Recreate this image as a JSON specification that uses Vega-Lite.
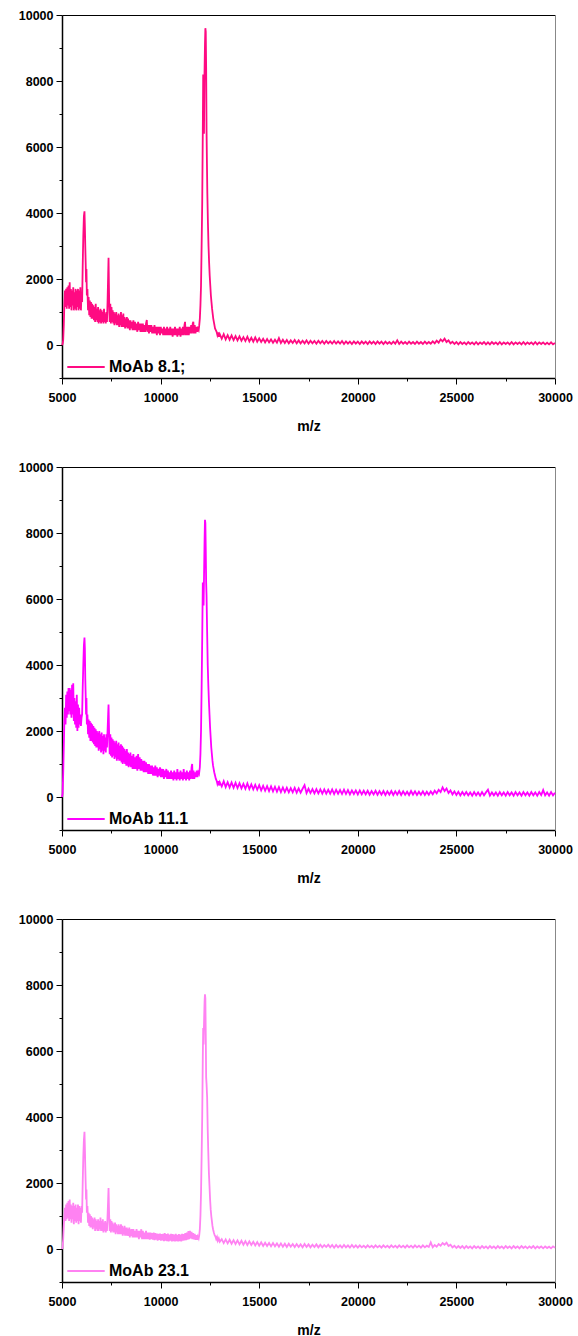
{
"$schema": "https://vega.github.io/schema/vega-lite/v6.json",
"background": "white",
"padding": {"left": 18, "top": 9, "right": 6, "bottom": 0},
"spacing": 27,
"config": {
 "view": {"stroke": null},
 "font": "Liberation Sans",
 "axis": {"grid": false, "labelFont": "Liberation Sans", "labelFontWeight": "bold", "labelFontSize": 12.5, "labelColor": "black", "titleFont": "Liberation Sans", "titleFontWeight": "bold", "titleFontSize": 14, "titleColor": "black", "domainColor": "black", "tickColor": "black", "labelFlush": false, "labelOverlap": false},
 "legend": {"orient": "none", "legendX": 4, "legendY": 332, "title": null, "symbolType": "stroke", "symbolSize": 1400, "symbolStrokeWidth": 1.8, "labelFont": "Liberation Sans", "labelFontSize": 16, "labelFontWeight": "bold", "labelColor": "black", "padding": 0, "labelOffset": 3}
},
"resolve": {"scale": {"color": "independent"}, "legend": {"color": "independent"}},
"datasets": {
"p1": [{"x":5000,"y":0},{"x":5030,"y":30},{"x":5060,"y":150},{"x":5090,"y":600},{"x":5120,"y":1250},{"x":5150,"y":1650},{"x":5180,"y":1150},{"x":5210,"y":1700},{"x":5240,"y":1100},{"x":5270,"y":1750},{"x":5300,"y":1200},{"x":5330,"y":1800},{"x":5360,"y":1100},{"x":5390,"y":1900},{"x":5420,"y":1150},{"x":5450,"y":1700},{"x":5480,"y":1050},{"x":5510,"y":1650},{"x":5540,"y":1200},{"x":5570,"y":1750},{"x":5600,"y":1050},{"x":5630,"y":1600},{"x":5660,"y":1100},{"x":5690,"y":1700},{"x":5720,"y":1050},{"x":5750,"y":1650},{"x":5780,"y":1150},{"x":5810,"y":1700},{"x":5840,"y":1050},{"x":5870,"y":1650},{"x":5900,"y":1100},{"x":5930,"y":1750},{"x":5960,"y":1050},{"x":5990,"y":1600},{"x":6020,"y":1300},{"x":6050,"y":2400},{"x":6080,"y":3300},{"x":6110,"y":3900},{"x":6140,"y":4050},{"x":6160,"y":3600},{"x":6180,"y":3000},{"x":6200,"y":2500},{"x":6220,"y":1900},{"x":6240,"y":2300},{"x":6260,"y":1500},{"x":6290,"y":1700},{"x":6320,"y":1050},{"x":6350,"y":1450},{"x":6380,"y":900},{"x":6410,"y":1350},{"x":6440,"y":850},{"x":6470,"y":1300},{"x":6500,"y":800},{"x":6530,"y":1250},{"x":6560,"y":800},{"x":6590,"y":1200},{"x":6620,"y":750},{"x":6650,"y":1150},{"x":6680,"y":700},{"x":6710,"y":1250},{"x":6740,"y":750},{"x":6770,"y":1100},{"x":6800,"y":700},{"x":6830,"y":1150},{"x":6860,"y":650},{"x":6890,"y":1050},{"x":6920,"y":700},{"x":6950,"y":1100},{"x":6980,"y":650},{"x":7010,"y":1050},{"x":7040,"y":700},{"x":7070,"y":1000},{"x":7100,"y":650},{"x":7130,"y":1100},{"x":7160,"y":700},{"x":7190,"y":950},{"x":7220,"y":650},{"x":7250,"y":1000},{"x":7280,"y":700},{"x":7310,"y":1300},{"x":7340,"y":2100},{"x":7360,"y":2640},{"x":7380,"y":1800},{"x":7400,"y":1000},{"x":7420,"y":700},{"x":7450,"y":1250},{"x":7480,"y":650},{"x":7510,"y":1150},{"x":7540,"y":700},{"x":7570,"y":1050},{"x":7600,"y":650},{"x":7630,"y":1000},{"x":7660,"y":600},{"x":7690,"y":950},{"x":7720,"y":650},{"x":7750,"y":1000},{"x":7780,"y":600},{"x":7810,"y":900},{"x":7840,"y":600},{"x":7870,"y":950},{"x":7900,"y":550},{"x":7930,"y":900},{"x":7960,"y":600},{"x":7990,"y":1000},{"x":8020,"y":550},{"x":8050,"y":900},{"x":8080,"y":550},{"x":8110,"y":950},{"x":8140,"y":550},{"x":8170,"y":850},{"x":8200,"y":500},{"x":8230,"y":800},{"x":8260,"y":550},{"x":8290,"y":850},{"x":8320,"y":500},{"x":8350,"y":800},{"x":8380,"y":500},{"x":8410,"y":750},{"x":8440,"y":450},{"x":8470,"y":750},{"x":8500,"y":500},{"x":8540,"y":700},{"x":8580,"y":450},{"x":8620,"y":750},{"x":8660,"y":450},{"x":8700,"y":700},{"x":8740,"y":450},{"x":8780,"y":650},{"x":8820,"y":400},{"x":8860,"y":700},{"x":8900,"y":450},{"x":8940,"y":650},{"x":8980,"y":400},{"x":9020,"y":650},{"x":9060,"y":400},{"x":9100,"y":650},{"x":9140,"y":400},{"x":9180,"y":600},{"x":9220,"y":400},{"x":9260,"y":650},{"x":9300,"y":760},{"x":9330,"y":400},{"x":9370,"y":600},{"x":9410,"y":350},{"x":9450,"y":600},{"x":9490,"y":400},{"x":9530,"y":600},{"x":9570,"y":350},{"x":9610,"y":550},{"x":9650,"y":350},{"x":9690,"y":600},{"x":9730,"y":350},{"x":9770,"y":550},{"x":9810,"y":300},{"x":9850,"y":550},{"x":9890,"y":350},{"x":9930,"y":550},{"x":9970,"y":300},{"x":10010,"y":550},{"x":10050,"y":350},{"x":10090,"y":500},{"x":10130,"y":300},{"x":10170,"y":550},{"x":10210,"y":300},{"x":10250,"y":500},{"x":10290,"y":300},{"x":10330,"y":550},{"x":10370,"y":300},{"x":10410,"y":500},{"x":10450,"y":300},{"x":10490,"y":550},{"x":10530,"y":300},{"x":10570,"y":500},{"x":10610,"y":250},{"x":10650,"y":500},{"x":10690,"y":300},{"x":10730,"y":550},{"x":10770,"y":300},{"x":10810,"y":500},{"x":10850,"y":250},{"x":10890,"y":500},{"x":10930,"y":300},{"x":10970,"y":550},{"x":11010,"y":250},{"x":11050,"y":500},{"x":11090,"y":300},{"x":11130,"y":550},{"x":11170,"y":300},{"x":11210,"y":600},{"x":11240,"y":700},{"x":11270,"y":300},{"x":11310,"y":550},{"x":11350,"y":300},{"x":11390,"y":550},{"x":11430,"y":300},{"x":11470,"y":550},{"x":11510,"y":350},{"x":11550,"y":600},{"x":11590,"y":350},{"x":11630,"y":650},{"x":11660,"y":700},{"x":11690,"y":350},{"x":11730,"y":600},{"x":11770,"y":350},{"x":11810,"y":550},{"x":11850,"y":400},{"x":11890,"y":500},{"x":11930,"y":450},{"x":11960,"y":600},{"x":11990,"y":800},{"x":12020,"y":1200},{"x":12050,"y":1800},{"x":12080,"y":3000},{"x":12110,"y":4300},{"x":12140,"y":6500},{"x":12160,"y":8200},{"x":12180,"y":7500},{"x":12200,"y":6400},{"x":12220,"y":8000},{"x":12250,"y":9100},{"x":12270,"y":9600},{"x":12290,"y":9500},{"x":12310,"y":8400},{"x":12330,"y":6500},{"x":12350,"y":5500},{"x":12370,"y":4600},{"x":12400,"y":3700},{"x":12430,"y":3000},{"x":12460,"y":2500},{"x":12490,"y":2100},{"x":12520,"y":1800},{"x":12550,"y":1500},{"x":12580,"y":1300},{"x":12610,"y":1100},{"x":12640,"y":950},{"x":12670,"y":800},{"x":12700,"y":700},{"x":12730,"y":600},{"x":12760,"y":500},{"x":12800,"y":450},{"x":12840,"y":400},{"x":12880,"y":300},{"x":12920,"y":380},{"x":12960,"y":250},{"x":13000,"y":330},{"x":13100,"y":190},{"x":13200,"y":330},{"x":13300,"y":170},{"x":13400,"y":300},{"x":13500,"y":160},{"x":13600,"y":290},{"x":13700,"y":150},{"x":13800,"y":270},{"x":13900,"y":140},{"x":14000,"y":260},{"x":14100,"y":130},{"x":14200,"y":240},{"x":14300,"y":120},{"x":14400,"y":250},{"x":14500,"y":110},{"x":14600,"y":220},{"x":14700,"y":100},{"x":14800,"y":230},{"x":14900,"y":100},{"x":15000,"y":200},{"x":15100,"y":90},{"x":15200,"y":190},{"x":15300,"y":80},{"x":15400,"y":180},{"x":15500,"y":80},{"x":15600,"y":170},{"x":15700,"y":70},{"x":15800,"y":160},{"x":15900,"y":70},{"x":16000,"y":210},{"x":16100,"y":60},{"x":16200,"y":160},{"x":16300,"y":60},{"x":16400,"y":150},{"x":16500,"y":50},{"x":16600,"y":140},{"x":16700,"y":60},{"x":16800,"y":150},{"x":16900,"y":50},{"x":17000,"y":140},{"x":17100,"y":50},{"x":17200,"y":130},{"x":17300,"y":50},{"x":17400,"y":140},{"x":17500,"y":40},{"x":17600,"y":130},{"x":17700,"y":50},{"x":17800,"y":120},{"x":17900,"y":40},{"x":18000,"y":130},{"x":18100,"y":50},{"x":18200,"y":120},{"x":18300,"y":40},{"x":18400,"y":120},{"x":18500,"y":50},{"x":18600,"y":110},{"x":18700,"y":40},{"x":18800,"y":120},{"x":18900,"y":40},{"x":19000,"y":110},{"x":19100,"y":40},{"x":19200,"y":120},{"x":19300,"y":30},{"x":19400,"y":110},{"x":19500,"y":40},{"x":19600,"y":100},{"x":19700,"y":30},{"x":19800,"y":110},{"x":19900,"y":40},{"x":20000,"y":100},{"x":20100,"y":30},{"x":20200,"y":110},{"x":20300,"y":40},{"x":20400,"y":100},{"x":20500,"y":30},{"x":20600,"y":110},{"x":20700,"y":40},{"x":20800,"y":100},{"x":20900,"y":30},{"x":21000,"y":110},{"x":21100,"y":40},{"x":21200,"y":100},{"x":21300,"y":30},{"x":21400,"y":100},{"x":21500,"y":40},{"x":21600,"y":90},{"x":21700,"y":30},{"x":21800,"y":100},{"x":21900,"y":40},{"x":22000,"y":140},{"x":22100,"y":30},{"x":22200,"y":100},{"x":22300,"y":40},{"x":22400,"y":90},{"x":22500,"y":30},{"x":22600,"y":100},{"x":22700,"y":40},{"x":22800,"y":90},{"x":22900,"y":30},{"x":23000,"y":100},{"x":23100,"y":40},{"x":23200,"y":90},{"x":23300,"y":30},{"x":23400,"y":100},{"x":23500,"y":40},{"x":23600,"y":90},{"x":23700,"y":40},{"x":23800,"y":110},{"x":23900,"y":50},{"x":24000,"y":130},{"x":24100,"y":70},{"x":24200,"y":170},{"x":24300,"y":110},{"x":24400,"y":190},{"x":24500,"y":90},{"x":24600,"y":140},{"x":24700,"y":50},{"x":24800,"y":100},{"x":24900,"y":30},{"x":25000,"y":90},{"x":25100,"y":20},{"x":25200,"y":90},{"x":25300,"y":30},{"x":25400,"y":80},{"x":25500,"y":20},{"x":25600,"y":90},{"x":25700,"y":30},{"x":25800,"y":80},{"x":25900,"y":20},{"x":26000,"y":90},{"x":26100,"y":20},{"x":26200,"y":80},{"x":26300,"y":30},{"x":26400,"y":90},{"x":26500,"y":20},{"x":26600,"y":80},{"x":26700,"y":20},{"x":26800,"y":90},{"x":26900,"y":30},{"x":27000,"y":80},{"x":27100,"y":20},{"x":27200,"y":90},{"x":27300,"y":20},{"x":27400,"y":80},{"x":27500,"y":30},{"x":27600,"y":80},{"x":27700,"y":20},{"x":27800,"y":90},{"x":27900,"y":20},{"x":28000,"y":80},{"x":28100,"y":30},{"x":28200,"y":80},{"x":28300,"y":20},{"x":28400,"y":90},{"x":28500,"y":20},{"x":28600,"y":80},{"x":28700,"y":30},{"x":28800,"y":80},{"x":28900,"y":20},{"x":29000,"y":90},{"x":29100,"y":20},{"x":29200,"y":80},{"x":29300,"y":30},{"x":29400,"y":80},{"x":29500,"y":20},{"x":29600,"y":70},{"x":29700,"y":20},{"x":29800,"y":80},{"x":29900,"y":20},{"x":30000,"y":60}],
"p2": [{"x":5000,"y":0},{"x":5030,"y":100},{"x":5060,"y":700},{"x":5090,"y":1500},{"x":5120,"y":2300},{"x":5150,"y":2700},{"x":5180,"y":2200},{"x":5210,"y":3100},{"x":5240,"y":2400},{"x":5270,"y":3200},{"x":5300,"y":2500},{"x":5330,"y":3300},{"x":5360,"y":2600},{"x":5390,"y":3300},{"x":5420,"y":2500},{"x":5450,"y":3250},{"x":5480,"y":2400},{"x":5510,"y":3400},{"x":5540,"y":2500},{"x":5570,"y":3450},{"x":5600,"y":2300},{"x":5630,"y":3000},{"x":5660,"y":2200},{"x":5690,"y":2900},{"x":5720,"y":2100},{"x":5750,"y":3100},{"x":5780,"y":2000},{"x":5810,"y":2800},{"x":5840,"y":2100},{"x":5870,"y":2700},{"x":5900,"y":2200},{"x":5930,"y":2500},{"x":5960,"y":2150},{"x":5990,"y":2400},{"x":6020,"y":2500},{"x":6050,"y":3300},{"x":6080,"y":4000},{"x":6110,"y":4600},{"x":6140,"y":4830},{"x":6160,"y":4500},{"x":6180,"y":3600},{"x":6200,"y":3100},{"x":6220,"y":2500},{"x":6240,"y":3000},{"x":6260,"y":2200},{"x":6290,"y":2500},{"x":6320,"y":1900},{"x":6350,"y":2350},{"x":6380,"y":1800},{"x":6410,"y":2300},{"x":6440,"y":1700},{"x":6470,"y":2250},{"x":6500,"y":1700},{"x":6530,"y":2200},{"x":6560,"y":1650},{"x":6590,"y":2150},{"x":6620,"y":1600},{"x":6650,"y":2100},{"x":6680,"y":1550},{"x":6710,"y":2050},{"x":6740,"y":1500},{"x":6770,"y":2000},{"x":6800,"y":1500},{"x":6830,"y":1950},{"x":6860,"y":1400},{"x":6890,"y":2000},{"x":6920,"y":1450},{"x":6950,"y":1900},{"x":6980,"y":1350},{"x":7010,"y":1950},{"x":7040,"y":1400},{"x":7070,"y":1850},{"x":7100,"y":1300},{"x":7130,"y":1900},{"x":7160,"y":1400},{"x":7190,"y":1800},{"x":7220,"y":1350},{"x":7250,"y":1900},{"x":7280,"y":1500},{"x":7310,"y":2000},{"x":7340,"y":2500},{"x":7360,"y":2800},{"x":7380,"y":2200},{"x":7400,"y":1600},{"x":7420,"y":1300},{"x":7450,"y":1900},{"x":7480,"y":1250},{"x":7510,"y":1800},{"x":7540,"y":1200},{"x":7570,"y":1750},{"x":7600,"y":1250},{"x":7630,"y":1700},{"x":7660,"y":1150},{"x":7690,"y":1650},{"x":7720,"y":1200},{"x":7750,"y":1700},{"x":7780,"y":1100},{"x":7810,"y":1600},{"x":7840,"y":1150},{"x":7870,"y":1650},{"x":7900,"y":1100},{"x":7930,"y":1550},{"x":7960,"y":1100},{"x":7990,"y":1600},{"x":8020,"y":1050},{"x":8050,"y":1550},{"x":8080,"y":1000},{"x":8110,"y":1500},{"x":8140,"y":1050},{"x":8170,"y":1450},{"x":8200,"y":1000},{"x":8230,"y":1400},{"x":8260,"y":950},{"x":8290,"y":1450},{"x":8320,"y":950},{"x":8350,"y":1350},{"x":8380,"y":900},{"x":8410,"y":1300},{"x":8440,"y":950},{"x":8470,"y":1350},{"x":8500,"y":900},{"x":8540,"y":1250},{"x":8580,"y":850},{"x":8620,"y":1300},{"x":8660,"y":850},{"x":8700,"y":1200},{"x":8740,"y":850},{"x":8780,"y":1250},{"x":8820,"y":800},{"x":8860,"y":1300},{"x":8900,"y":850},{"x":8940,"y":1200},{"x":8980,"y":800},{"x":9020,"y":1150},{"x":9060,"y":800},{"x":9100,"y":1100},{"x":9140,"y":750},{"x":9180,"y":1100},{"x":9220,"y":750},{"x":9260,"y":1050},{"x":9300,"y":750},{"x":9330,"y":1000},{"x":9370,"y":700},{"x":9410,"y":1000},{"x":9450,"y":700},{"x":9490,"y":950},{"x":9530,"y":700},{"x":9570,"y":950},{"x":9610,"y":650},{"x":9650,"y":900},{"x":9690,"y":650},{"x":9730,"y":950},{"x":9770,"y":650},{"x":9810,"y":900},{"x":9850,"y":600},{"x":9890,"y":850},{"x":9930,"y":650},{"x":9970,"y":900},{"x":10010,"y":600},{"x":10050,"y":850},{"x":10090,"y":600},{"x":10130,"y":850},{"x":10170,"y":550},{"x":10210,"y":800},{"x":10250,"y":600},{"x":10290,"y":850},{"x":10330,"y":550},{"x":10370,"y":800},{"x":10410,"y":550},{"x":10450,"y":750},{"x":10490,"y":550},{"x":10530,"y":800},{"x":10570,"y":550},{"x":10610,"y":750},{"x":10650,"y":500},{"x":10690,"y":800},{"x":10730,"y":550},{"x":10770,"y":750},{"x":10810,"y":500},{"x":10850,"y":850},{"x":10890,"y":550},{"x":10930,"y":750},{"x":10970,"y":500},{"x":11010,"y":800},{"x":11050,"y":550},{"x":11090,"y":750},{"x":11130,"y":500},{"x":11170,"y":850},{"x":11210,"y":550},{"x":11250,"y":750},{"x":11290,"y":500},{"x":11330,"y":800},{"x":11370,"y":550},{"x":11410,"y":750},{"x":11450,"y":500},{"x":11490,"y":800},{"x":11530,"y":550},{"x":11570,"y":900},{"x":11600,"y":1000},{"x":11630,"y":550},{"x":11670,"y":800},{"x":11710,"y":550},{"x":11750,"y":750},{"x":11790,"y":600},{"x":11830,"y":800},{"x":11870,"y":600},{"x":11910,"y":750},{"x":11950,"y":700},{"x":11990,"y":900},{"x":12020,"y":1300},{"x":12050,"y":2000},{"x":12080,"y":3300},{"x":12110,"y":4800},{"x":12140,"y":6500},{"x":12160,"y":6300},{"x":12180,"y":5800},{"x":12200,"y":6600},{"x":12230,"y":7800},{"x":12250,"y":8400},{"x":12270,"y":8300},{"x":12290,"y":7500},{"x":12310,"y":6500},{"x":12330,"y":6100},{"x":12360,"y":5000},{"x":12390,"y":4000},{"x":12420,"y":3400},{"x":12450,"y":2900},{"x":12480,"y":2500},{"x":12510,"y":2100},{"x":12540,"y":1800},{"x":12570,"y":1500},{"x":12600,"y":1300},{"x":12630,"y":1100},{"x":12660,"y":950},{"x":12690,"y":850},{"x":12720,"y":750},{"x":12760,"y":650},{"x":12800,"y":550},{"x":12840,"y":500},{"x":12880,"y":400},{"x":12920,"y":480},{"x":12960,"y":350},{"x":13000,"y":450},{"x":13100,"y":320},{"x":13200,"y":480},{"x":13300,"y":300},{"x":13400,"y":450},{"x":13500,"y":290},{"x":13600,"y":440},{"x":13700,"y":280},{"x":13800,"y":430},{"x":13900,"y":270},{"x":14000,"y":420},{"x":14100,"y":260},{"x":14200,"y":400},{"x":14300,"y":250},{"x":14400,"y":410},{"x":14500,"y":240},{"x":14600,"y":380},{"x":14700,"y":230},{"x":14800,"y":370},{"x":14900,"y":220},{"x":15000,"y":360},{"x":15100,"y":200},{"x":15200,"y":340},{"x":15300,"y":190},{"x":15400,"y":330},{"x":15500,"y":180},{"x":15600,"y":320},{"x":15700,"y":170},{"x":15800,"y":310},{"x":15900,"y":160},{"x":16000,"y":300},{"x":16100,"y":150},{"x":16200,"y":290},{"x":16300,"y":150},{"x":16400,"y":280},{"x":16500,"y":140},{"x":16600,"y":270},{"x":16700,"y":140},{"x":16800,"y":280},{"x":16900,"y":130},{"x":17000,"y":260},{"x":17100,"y":130},{"x":17200,"y":250},{"x":17300,"y":360},{"x":17400,"y":120},{"x":17500,"y":250},{"x":17600,"y":120},{"x":17700,"y":240},{"x":17800,"y":110},{"x":17900,"y":240},{"x":18000,"y":110},{"x":18100,"y":230},{"x":18200,"y":100},{"x":18300,"y":230},{"x":18400,"y":100},{"x":18500,"y":220},{"x":18600,"y":100},{"x":18700,"y":230},{"x":18800,"y":90},{"x":18900,"y":220},{"x":19000,"y":100},{"x":19100,"y":210},{"x":19200,"y":90},{"x":19300,"y":220},{"x":19400,"y":90},{"x":19500,"y":210},{"x":19600,"y":80},{"x":19700,"y":200},{"x":19800,"y":90},{"x":19900,"y":200},{"x":20000,"y":80},{"x":20100,"y":200},{"x":20200,"y":80},{"x":20300,"y":190},{"x":20400,"y":80},{"x":20500,"y":190},{"x":20600,"y":70},{"x":20700,"y":180},{"x":20800,"y":80},{"x":20900,"y":190},{"x":21000,"y":70},{"x":21100,"y":180},{"x":21200,"y":70},{"x":21300,"y":180},{"x":21400,"y":60},{"x":21500,"y":170},{"x":21600,"y":70},{"x":21700,"y":180},{"x":21800,"y":60},{"x":21900,"y":170},{"x":22000,"y":70},{"x":22100,"y":180},{"x":22200,"y":60},{"x":22300,"y":170},{"x":22400,"y":70},{"x":22500,"y":160},{"x":22600,"y":60},{"x":22700,"y":180},{"x":22800,"y":70},{"x":22900,"y":170},{"x":23000,"y":60},{"x":23100,"y":160},{"x":23200,"y":70},{"x":23300,"y":170},{"x":23400,"y":60},{"x":23500,"y":160},{"x":23600,"y":70},{"x":23700,"y":170},{"x":23800,"y":80},{"x":23900,"y":190},{"x":24000,"y":110},{"x":24100,"y":220},{"x":24200,"y":150},{"x":24300,"y":290},{"x":24400,"y":180},{"x":24500,"y":260},{"x":24600,"y":120},{"x":24700,"y":200},{"x":24800,"y":80},{"x":24900,"y":170},{"x":25000,"y":60},{"x":25100,"y":160},{"x":25200,"y":50},{"x":25300,"y":150},{"x":25400,"y":60},{"x":25500,"y":150},{"x":25600,"y":50},{"x":25700,"y":140},{"x":25800,"y":40},{"x":25900,"y":150},{"x":26000,"y":50},{"x":26100,"y":140},{"x":26200,"y":40},{"x":26300,"y":150},{"x":26400,"y":50},{"x":26500,"y":140},{"x":26600,"y":220},{"x":26700,"y":40},{"x":26800,"y":140},{"x":26900,"y":50},{"x":27000,"y":140},{"x":27100,"y":40},{"x":27200,"y":150},{"x":27300,"y":50},{"x":27400,"y":140},{"x":27500,"y":40},{"x":27600,"y":150},{"x":27700,"y":50},{"x":27800,"y":140},{"x":27900,"y":40},{"x":28000,"y":150},{"x":28100,"y":50},{"x":28200,"y":140},{"x":28300,"y":40},{"x":28400,"y":150},{"x":28500,"y":50},{"x":28600,"y":140},{"x":28700,"y":40},{"x":28800,"y":150},{"x":28900,"y":50},{"x":29000,"y":140},{"x":29100,"y":40},{"x":29200,"y":150},{"x":29300,"y":60},{"x":29400,"y":210},{"x":29500,"y":50},{"x":29600,"y":140},{"x":29700,"y":40},{"x":29800,"y":150},{"x":29900,"y":50},{"x":30000,"y":130}],
"p3": [{"x":5000,"y":0},{"x":5030,"y":50},{"x":5060,"y":300},{"x":5090,"y":700},{"x":5120,"y":1000},{"x":5150,"y":1250},{"x":5180,"y":850},{"x":5210,"y":1350},{"x":5240,"y":900},{"x":5270,"y":1400},{"x":5300,"y":950},{"x":5330,"y":1450},{"x":5360,"y":850},{"x":5390,"y":1500},{"x":5420,"y":900},{"x":5450,"y":1350},{"x":5480,"y":800},{"x":5510,"y":1300},{"x":5540,"y":900},{"x":5570,"y":1400},{"x":5600,"y":750},{"x":5630,"y":1300},{"x":5660,"y":850},{"x":5690,"y":1350},{"x":5720,"y":800},{"x":5750,"y":1250},{"x":5780,"y":850},{"x":5810,"y":1350},{"x":5840,"y":750},{"x":5870,"y":1300},{"x":5900,"y":850},{"x":5930,"y":1250},{"x":5960,"y":800},{"x":5990,"y":1300},{"x":6020,"y":1100},{"x":6050,"y":2000},{"x":6080,"y":2800},{"x":6110,"y":3300},{"x":6140,"y":3550},{"x":6160,"y":3100},{"x":6180,"y":2500},{"x":6200,"y":2000},{"x":6220,"y":1500},{"x":6240,"y":1800},{"x":6260,"y":1100},{"x":6290,"y":1300},{"x":6320,"y":800},{"x":6350,"y":1100},{"x":6380,"y":700},{"x":6410,"y":1050},{"x":6440,"y":650},{"x":6470,"y":1000},{"x":6500,"y":650},{"x":6530,"y":950},{"x":6560,"y":600},{"x":6590,"y":900},{"x":6620,"y":650},{"x":6650,"y":950},{"x":6680,"y":550},{"x":6710,"y":900},{"x":6740,"y":600},{"x":6770,"y":850},{"x":6800,"y":550},{"x":6830,"y":900},{"x":6860,"y":550},{"x":6890,"y":850},{"x":6920,"y":600},{"x":6950,"y":950},{"x":6980,"y":550},{"x":7010,"y":850},{"x":7040,"y":550},{"x":7070,"y":900},{"x":7100,"y":500},{"x":7130,"y":800},{"x":7160,"y":550},{"x":7190,"y":850},{"x":7220,"y":500},{"x":7250,"y":800},{"x":7280,"y":550},{"x":7310,"y":1000},{"x":7340,"y":1500},{"x":7360,"y":1845},{"x":7380,"y":1300},{"x":7400,"y":800},{"x":7420,"y":550},{"x":7450,"y":900},{"x":7480,"y":500},{"x":7510,"y":850},{"x":7540,"y":550},{"x":7570,"y":800},{"x":7600,"y":500},{"x":7630,"y":750},{"x":7660,"y":500},{"x":7690,"y":800},{"x":7720,"y":450},{"x":7750,"y":750},{"x":7780,"y":500},{"x":7810,"y":700},{"x":7840,"y":450},{"x":7870,"y":750},{"x":7900,"y":450},{"x":7930,"y":700},{"x":7960,"y":450},{"x":7990,"y":750},{"x":8020,"y":450},{"x":8050,"y":700},{"x":8080,"y":400},{"x":8110,"y":650},{"x":8140,"y":450},{"x":8170,"y":700},{"x":8200,"y":400},{"x":8230,"y":650},{"x":8260,"y":400},{"x":8290,"y":650},{"x":8320,"y":400},{"x":8350,"y":600},{"x":8380,"y":400},{"x":8410,"y":650},{"x":8440,"y":350},{"x":8470,"y":600},{"x":8500,"y":400},{"x":8540,"y":600},{"x":8580,"y":350},{"x":8620,"y":600},{"x":8660,"y":350},{"x":8700,"y":550},{"x":8740,"y":350},{"x":8780,"y":600},{"x":8820,"y":350},{"x":8860,"y":550},{"x":8900,"y":300},{"x":8940,"y":550},{"x":8980,"y":350},{"x":9020,"y":600},{"x":9060,"y":300},{"x":9100,"y":550},{"x":9140,"y":300},{"x":9180,"y":500},{"x":9220,"y":300},{"x":9260,"y":550},{"x":9300,"y":300},{"x":9330,"y":500},{"x":9370,"y":300},{"x":9410,"y":500},{"x":9450,"y":280},{"x":9490,"y":500},{"x":9530,"y":300},{"x":9570,"y":480},{"x":9610,"y":280},{"x":9650,"y":500},{"x":9690,"y":270},{"x":9730,"y":480},{"x":9770,"y":280},{"x":9810,"y":470},{"x":9850,"y":250},{"x":9890,"y":460},{"x":9930,"y":280},{"x":9970,"y":470},{"x":10010,"y":250},{"x":10050,"y":450},{"x":10090,"y":260},{"x":10130,"y":460},{"x":10170,"y":240},{"x":10210,"y":480},{"x":10250,"y":250},{"x":10290,"y":450},{"x":10330,"y":240},{"x":10370,"y":470},{"x":10410,"y":230},{"x":10450,"y":440},{"x":10490,"y":250},{"x":10530,"y":460},{"x":10570,"y":230},{"x":10610,"y":450},{"x":10650,"y":240},{"x":10690,"y":440},{"x":10730,"y":230},{"x":10770,"y":460},{"x":10810,"y":240},{"x":10850,"y":430},{"x":10890,"y":230},{"x":10930,"y":450},{"x":10970,"y":240},{"x":11010,"y":440},{"x":11050,"y":230},{"x":11090,"y":460},{"x":11130,"y":250},{"x":11170,"y":450},{"x":11210,"y":260},{"x":11250,"y":480},{"x":11290,"y":270},{"x":11330,"y":500},{"x":11370,"y":280},{"x":11410,"y":540},{"x":11450,"y":300},{"x":11490,"y":550},{"x":11530,"y":320},{"x":11570,"y":520},{"x":11610,"y":300},{"x":11650,"y":480},{"x":11690,"y":290},{"x":11730,"y":460},{"x":11770,"y":280},{"x":11810,"y":420},{"x":11850,"y":280},{"x":11890,"y":380},{"x":11930,"y":320},{"x":11960,"y":420},{"x":11990,"y":600},{"x":12020,"y":1000},{"x":12050,"y":1700},{"x":12080,"y":2800},{"x":12110,"y":4000},{"x":12140,"y":5800},{"x":12160,"y":6700},{"x":12180,"y":6200},{"x":12200,"y":6800},{"x":12230,"y":7500},{"x":12250,"y":7720},{"x":12270,"y":7600},{"x":12290,"y":6500},{"x":12310,"y":5200},{"x":12330,"y":5000},{"x":12360,"y":4600},{"x":12390,"y":3600},{"x":12420,"y":2900},{"x":12450,"y":2300},{"x":12480,"y":1900},{"x":12510,"y":1500},{"x":12540,"y":1200},{"x":12570,"y":1000},{"x":12600,"y":850},{"x":12630,"y":700},{"x":12660,"y":600},{"x":12700,"y":500},{"x":12740,"y":420},{"x":12780,"y":380},{"x":12820,"y":300},{"x":12860,"y":360},{"x":12900,"y":250},{"x":12950,"y":320},{"x":13000,"y":220},{"x":13100,"y":300},{"x":13200,"y":180},{"x":13300,"y":290},{"x":13400,"y":170},{"x":13500,"y":280},{"x":13600,"y":160},{"x":13700,"y":270},{"x":13800,"y":150},{"x":13900,"y":260},{"x":14000,"y":140},{"x":14100,"y":250},{"x":14200,"y":130},{"x":14300,"y":240},{"x":14400,"y":120},{"x":14500,"y":230},{"x":14600,"y":120},{"x":14700,"y":220},{"x":14800,"y":110},{"x":14900,"y":210},{"x":15000,"y":100},{"x":15100,"y":200},{"x":15200,"y":90},{"x":15300,"y":190},{"x":15400,"y":90},{"x":15500,"y":180},{"x":15600,"y":80},{"x":15700,"y":180},{"x":15800,"y":80},{"x":15900,"y":170},{"x":16000,"y":70},{"x":16100,"y":170},{"x":16200,"y":70},{"x":16300,"y":160},{"x":16400,"y":60},{"x":16500,"y":160},{"x":16600,"y":70},{"x":16700,"y":150},{"x":16800,"y":60},{"x":16900,"y":150},{"x":17000,"y":60},{"x":17100,"y":140},{"x":17200,"y":50},{"x":17300,"y":150},{"x":17400,"y":60},{"x":17500,"y":140},{"x":17600,"y":50},{"x":17700,"y":130},{"x":17800,"y":60},{"x":17900,"y":140},{"x":18000,"y":50},{"x":18100,"y":130},{"x":18200,"y":50},{"x":18300,"y":120},{"x":18400,"y":60},{"x":18500,"y":130},{"x":18600,"y":50},{"x":18700,"y":120},{"x":18800,"y":40},{"x":18900,"y":120},{"x":19000,"y":50},{"x":19100,"y":110},{"x":19200,"y":40},{"x":19300,"y":120},{"x":19400,"y":50},{"x":19500,"y":110},{"x":19600,"y":40},{"x":19700,"y":120},{"x":19800,"y":50},{"x":19900,"y":110},{"x":20000,"y":40},{"x":20100,"y":110},{"x":20200,"y":50},{"x":20300,"y":100},{"x":20400,"y":40},{"x":20500,"y":110},{"x":20600,"y":50},{"x":20700,"y":100},{"x":20800,"y":40},{"x":20900,"y":110},{"x":21000,"y":50},{"x":21100,"y":100},{"x":21200,"y":40},{"x":21300,"y":110},{"x":21400,"y":50},{"x":21500,"y":100},{"x":21600,"y":40},{"x":21700,"y":110},{"x":21800,"y":50},{"x":21900,"y":100},{"x":22000,"y":40},{"x":22100,"y":110},{"x":22200,"y":50},{"x":22300,"y":100},{"x":22400,"y":40},{"x":22500,"y":110},{"x":22600,"y":50},{"x":22700,"y":100},{"x":22800,"y":40},{"x":22900,"y":110},{"x":23000,"y":50},{"x":23100,"y":100},{"x":23200,"y":40},{"x":23300,"y":110},{"x":23400,"y":50},{"x":23500,"y":100},{"x":23600,"y":60},{"x":23700,"y":200},{"x":23800,"y":50},{"x":23900,"y":120},{"x":24000,"y":70},{"x":24100,"y":150},{"x":24200,"y":100},{"x":24300,"y":180},{"x":24400,"y":130},{"x":24500,"y":190},{"x":24600,"y":90},{"x":24700,"y":130},{"x":24800,"y":50},{"x":24900,"y":100},{"x":25000,"y":30},{"x":25100,"y":90},{"x":25200,"y":30},{"x":25300,"y":90},{"x":25400,"y":20},{"x":25500,"y":90},{"x":25600,"y":30},{"x":25700,"y":80},{"x":25800,"y":20},{"x":25900,"y":90},{"x":26000,"y":30},{"x":26100,"y":80},{"x":26200,"y":20},{"x":26300,"y":90},{"x":26400,"y":30},{"x":26500,"y":80},{"x":26600,"y":20},{"x":26700,"y":90},{"x":26800,"y":30},{"x":26900,"y":80},{"x":27000,"y":20},{"x":27100,"y":90},{"x":27200,"y":30},{"x":27300,"y":80},{"x":27400,"y":20},{"x":27500,"y":90},{"x":27600,"y":30},{"x":27700,"y":80},{"x":27800,"y":20},{"x":27900,"y":90},{"x":28000,"y":30},{"x":28100,"y":80},{"x":28200,"y":20},{"x":28300,"y":90},{"x":28400,"y":30},{"x":28500,"y":80},{"x":28600,"y":20},{"x":28700,"y":80},{"x":28800,"y":30},{"x":28900,"y":90},{"x":29000,"y":20},{"x":29100,"y":80},{"x":29200,"y":30},{"x":29300,"y":80},{"x":29400,"y":20},{"x":29500,"y":80},{"x":29600,"y":30},{"x":29700,"y":70},{"x":29800,"y":20},{"x":29900,"y":80},{"x":30000,"y":40}]
},
"vconcat": [
 {"width": 493, "height": 363, "data": {"name": "p1"},
  "resolve": {"axis": {"x": "independent", "y": "independent"}},
  "layer": [
   {"mark": {"type": "line", "strokeWidth": 1.8},
    "encoding": {
     "x": {"field": "x", "type": "quantitative", "scale": {"domain": [5000, 30000], "nice": false, "zero": false},
       "axis": {"orient": "bottom", "title": "m/z", "format": "d", "values": [5000,7500,10000,12500,15000,17500,20000,22500,25000,27500,30000], "labelExpr": "datum.value % 5000 === 0 ? datum.label : ''", "tickSize": {"condition": {"test": "datum.value % 5000 === 0", "value": 6}, "value": 3}, "domainWidth": 1.5, "labelPadding": 7, "titlePadding": 16}},
     "y": {"field": "y", "type": "quantitative", "scale": {"domain": [-1000, 10000], "nice": false, "zero": false},
       "axis": {"orient": "left", "title": null, "format": "d", "values": [-1000,0,1000,2000,3000,4000,5000,6000,7000,8000,9000,10000], "labelExpr": "datum.value % 2000 === 0 ? datum.label : ''", "tickSize": {"condition": {"test": "datum.value % 2000 === 0", "value": 6}, "value": 3}, "domainWidth": 1.5, "labelPadding": 3}},
     "color": {"datum": "MoAb 8.1;", "scale": {"range": ["#FF0A82"]}}
    }},
   {"mark": {"type": "line", "strokeOpacity": 0},
    "encoding": {
     "x": {"field": "x", "type": "quantitative", "axis": {"orient": "top", "ticks": false, "labels": false, "title": null, "domainColor": "black", "domainWidth": 1}},
     "y": {"field": "y", "type": "quantitative", "axis": {"orient": "right", "ticks": false, "labels": false, "title": null, "domainColor": "#888888", "domainWidth": 1}}
    }}
  ]},
 {"width": 493, "height": 363, "data": {"name": "p2"},
  "resolve": {"axis": {"x": "independent", "y": "independent"}},
  "layer": [
   {"mark": {"type": "line", "strokeWidth": 1.8},
    "encoding": {
     "x": {"field": "x", "type": "quantitative", "scale": {"domain": [5000, 30000], "nice": false, "zero": false},
       "axis": {"orient": "bottom", "title": "m/z", "format": "d", "values": [5000,7500,10000,12500,15000,17500,20000,22500,25000,27500,30000], "labelExpr": "datum.value % 5000 === 0 ? datum.label : ''", "tickSize": {"condition": {"test": "datum.value % 5000 === 0", "value": 6}, "value": 3}, "domainWidth": 1.5, "labelPadding": 7, "titlePadding": 16}},
     "y": {"field": "y", "type": "quantitative", "scale": {"domain": [-1000, 10000], "nice": false, "zero": false},
       "axis": {"orient": "left", "title": null, "format": "d", "values": [-1000,0,1000,2000,3000,4000,5000,6000,7000,8000,9000,10000], "labelExpr": "datum.value % 2000 === 0 ? datum.label : ''", "tickSize": {"condition": {"test": "datum.value % 2000 === 0", "value": 6}, "value": 3}, "domainWidth": 1.5, "labelPadding": 3}},
     "color": {"datum": "MoAb 11.1", "scale": {"range": ["#FF00FF"]}}
    }},
   {"mark": {"type": "line", "strokeOpacity": 0},
    "encoding": {
     "x": {"field": "x", "type": "quantitative", "axis": {"orient": "top", "ticks": false, "labels": false, "title": null, "domainColor": "black", "domainWidth": 1}},
     "y": {"field": "y", "type": "quantitative", "axis": {"orient": "right", "ticks": false, "labels": false, "title": null, "domainColor": "#888888", "domainWidth": 1}}
    }}
  ]},
 {"width": 493, "height": 363, "data": {"name": "p3"},
  "resolve": {"axis": {"x": "independent", "y": "independent"}},
  "layer": [
   {"mark": {"type": "line", "strokeWidth": 1.8},
    "encoding": {
     "x": {"field": "x", "type": "quantitative", "scale": {"domain": [5000, 30000], "nice": false, "zero": false},
       "axis": {"orient": "bottom", "title": "m/z", "format": "d", "values": [5000,7500,10000,12500,15000,17500,20000,22500,25000,27500,30000], "labelExpr": "datum.value % 5000 === 0 ? datum.label : ''", "tickSize": {"condition": {"test": "datum.value % 5000 === 0", "value": 6}, "value": 3}, "domainWidth": 1.5, "labelPadding": 7, "titlePadding": 16}},
     "y": {"field": "y", "type": "quantitative", "scale": {"domain": [-1000, 10000], "nice": false, "zero": false},
       "axis": {"orient": "left", "title": null, "format": "d", "values": [-1000,0,1000,2000,3000,4000,5000,6000,7000,8000,9000,10000], "labelExpr": "datum.value % 2000 === 0 ? datum.label : ''", "tickSize": {"condition": {"test": "datum.value % 2000 === 0", "value": 6}, "value": 3}, "domainWidth": 1.5, "labelPadding": 3}},
     "color": {"datum": "MoAb 23.1", "scale": {"range": ["#FF82F2"]}}
    }},
   {"mark": {"type": "line", "strokeOpacity": 0},
    "encoding": {
     "x": {"field": "x", "type": "quantitative", "axis": {"orient": "top", "ticks": false, "labels": false, "title": null, "domainColor": "black", "domainWidth": 1}},
     "y": {"field": "y", "type": "quantitative", "axis": {"orient": "right", "ticks": false, "labels": false, "title": null, "domainColor": "#888888", "domainWidth": 1}}
    }}
  ]}
]
}
